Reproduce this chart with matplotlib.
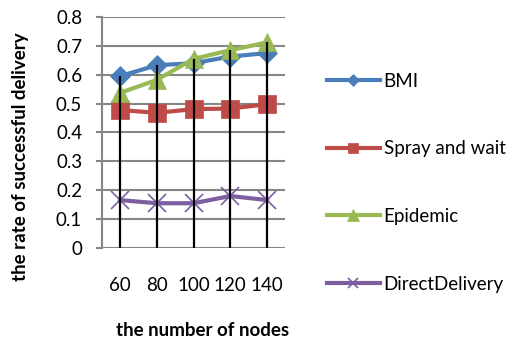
import matplotlib
matplotlib.use('Agg')
import matplotlib.pyplot as plt

plt.rcParams['font.family'] = ['Lato', 'DejaVu Sans']

nodes = ['60', '80', '100', '120', '140']
bmi = [0.595, 0.633, 0.640, 0.663, 0.675]
spray_and_wait = [0.478, 0.468, 0.481, 0.483, 0.498]
epidemic = [0.537, 0.582, 0.655, 0.685, 0.712]
direct_delivery = [0.166, 0.155, 0.155, 0.180, 0.166]

series = [
    ('BMI', bmi, '#4A7EBB', 'D', 10.5),
    ('Spray and wait', spray_and_wait, '#BE4B48', 's', 12.5),
    ('Epidemic', epidemic, '#98B954', '^', 13.5),
    ('DirectDelivery', direct_delivery, '#7D5FA0', 'x', 12.5),
]

fig = plt.figure(figsize=(5.13, 3.40), dpi=100)
ax = fig.add_axes([0.198, 0.2706, 0.3585, 0.6794])

xs = list(range(len(nodes)))

for name, values, color, marker, size in series:
    ax.plot(xs, values, color=color, linewidth=3, marker=marker, markersize=size,
            markeredgewidth=1.2 if marker == 'x' else 0.5,
            markeredgecolor=color, label=name, zorder=3)

# drop lines from the highest value at each category
tops = [max(v) for v in zip(bmi, spray_and_wait, epidemic, direct_delivery)]
ax.vlines(xs, 0, tops, color='black', linewidth=1.6, zorder=4)

ax.set_xlim(-0.5, len(nodes) - 0.5)
ax.set_ylim(0, 0.8)
ax.set_yticks([i / 10 for i in range(9)])
ax.set_yticklabels(['0', '0.1', '0.2', '0.3', '0.4', '0.5', '0.6', '0.7', '0.8'])
ax.set_xticks(xs)
ax.set_xticklabels(nodes)

ax.grid(axis='y', color='#868686', linewidth=1.5, zorder=1)
ax.set_axisbelow(True)
for side in ['top', 'right', 'bottom']:
    ax.spines[side].set_visible(False)
ax.spines['left'].set_color('#868686')
ax.spines['left'].set_linewidth(1.5)

ax.tick_params(axis='y', length=4, width=1.5, color='#868686', pad=10, labelsize=13.5)
ax.tick_params(axis='x', length=0, pad=21, labelsize=13.5)

fig.text(0.039, 0.538, 'the rate of successful delivery', rotation=90, fontsize=13.5,
         fontweight='bold', ha='center', va='center')
fig.text(0.395, 0.029, 'the number of nodes', fontsize=13.5, fontweight='bold',
         ha='center', va='center')

fig.legend(loc='upper left', bbox_to_anchor=(0.637, 0.786), frameon=False,
           fontsize=13.5, labelspacing=2.70, handlelength=2.83, handletextpad=0.2,
           markerscale=0.6, borderpad=0, borderaxespad=0)

plt.savefig('out.png', dpi=100)
